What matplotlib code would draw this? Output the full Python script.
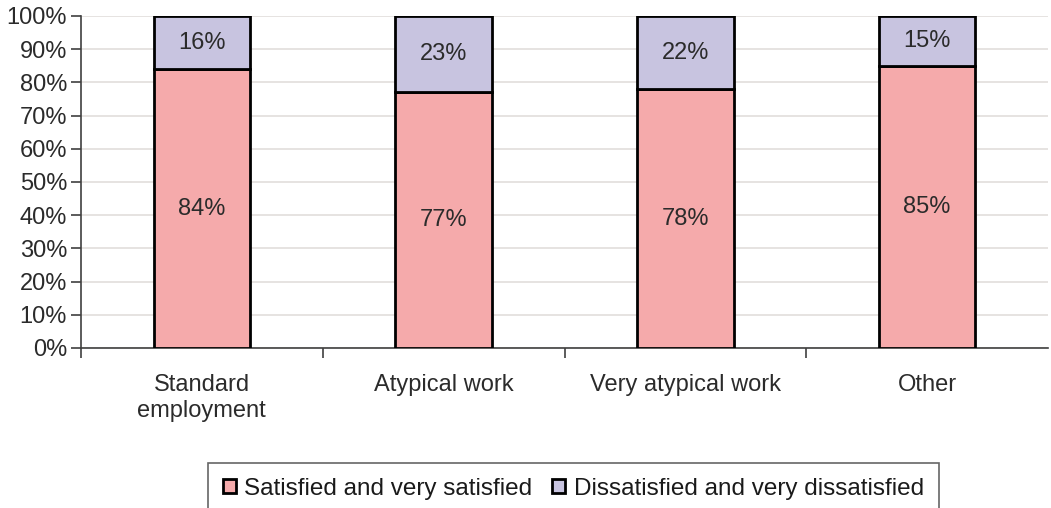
import numpy as np
import matplotlib.pyplot as plt
from matplotlib.ticker import FixedLocator, PercentFormatter

categories = ["Standard\nemployment", "Atypical work", "Very atypical work", "Other"]
satisfied = [84, 77, 78, 85]
dissatisfied = [16, 23, 22, 15]
series_names = ["Satisfied and very satisfied", "Dissatisfied and very dissatisfied"]

plt.rcParams['font.family'] = ['Liberation Sans', 'DejaVu Sans']

fig = plt.figure(figsize=(10.51, 5.08), dpi=100)
ax = fig.add_axes([81 / 1051, 160 / 508, (1048 - 81) / 1051, (348 - 16) / 508])

x = np.arange(len(categories))
w = 0.4
pink = '#f5aaab'
lav = '#c8c4e0'
b1 = ax.bar(x, satisfied, w, color=pink, edgecolor='black', linewidth=2, label=series_names[0], zorder=3)
b2 = ax.bar(x, dissatisfied, w, bottom=satisfied, color=lav, edgecolor='black', linewidth=2,
            label=series_names[1], zorder=3)

fs = 17
for i in range(len(categories)):
    ax.text(x[i], satisfied[i] / 2, f'{satisfied[i]}%', ha='center', va='center', fontsize=fs, color='#2b2b2b', zorder=4)
    ax.text(x[i], satisfied[i] + dissatisfied[i] / 2, f'{dissatisfied[i]}%', ha='center', va='center',
            fontsize=fs, color='#2b2b2b', zorder=4)

ax.set_xlim(-0.5, len(categories) - 0.5)
ax.set_ylim(0, 100)
ax.set_yticks(np.arange(0, 101, 10))
ax.yaxis.set_major_formatter(PercentFormatter(decimals=0))
ax.yaxis.grid(True, color='#e2dedb', linewidth=1.2, zorder=0)

ax.set_xticks(x)
ax.set_xticklabels(categories)
ax.xaxis.set_minor_locator(FixedLocator(np.arange(0, len(categories)) - 0.5))
ax.tick_params(axis='x', which='major', length=0, pad=19, labelsize=fs, labelcolor='#2b2b2b')
ax.tick_params(axis='x', which='minor', length=7, width=1.2, color='#404040', direction='out')
ax.tick_params(axis='y', length=7, width=1.2, color='#404040', labelsize=fs, labelcolor='#2b2b2b', pad=3)

for s in ['top', 'right']:
    ax.spines[s].set_visible(False)
for s in ['left', 'bottom']:
    ax.spines[s].set_color('#404040')
    ax.spines[s].set_linewidth(1.2)

leg = fig.legend(handles=[b1, b2], labels=series_names, loc='upper left',
                 bbox_to_anchor=(208 / 1051, 1 - 463 / 508), ncol=2, fontsize=17.5,
                 frameon=True, fancybox=False, handlelength=0.55, handleheight=0.55,
                 handletextpad=0.35, columnspacing=0.8, borderpad=0.6, borderaxespad=0,
                 labelcolor='#1a1a1a')
leg.get_frame().set_edgecolor('#404040')
leg.get_frame().set_linewidth(1.2)

fig.savefig('out.png', dpi=100)
